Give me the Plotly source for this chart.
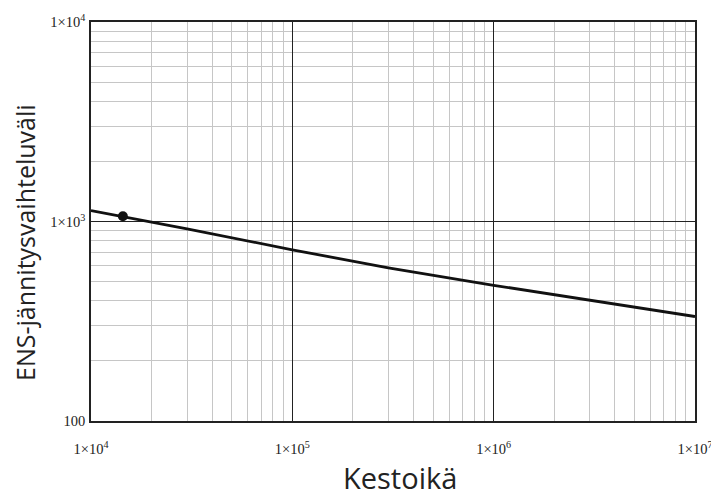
import plotly.graph_objects as go

# Data
cycles = [1e4, 3e4, 1e5, 3e5, 1e6, 3e6, 1e7]
stress_range = [1135, 919, 721, 586, 479, 403, 334]
point_cycles = [14400]
point_stress = [1063]

x_tickvals = [1e4, 1e5, 1e6, 1e7]
x_ticktext = ["1×10<sup>4</sup>", "1×10<sup>5</sup>", "1×10<sup>6</sup>", "1×10<sup>7</sup>"]
y_tickvals = [100, 1e3, 1e4]
y_ticktext = ["100", "1×10<sup>3</sup>", "1×10<sup>4</sup>"]

x_minor = [m * 10 ** e for e in range(4, 7) for m in range(2, 10)]
y_minor = [m * 10 ** e for e in range(2, 4) for m in range(2, 10)]

# page offset (browser body margin)
OFF = 8
W, H = 719 - OFF, 499 - OFF
L, R, T, B = 91 - OFF, 24, 22 - OFF, 78
pw, ph = W - L - R, H - T - B

fig = go.Figure()
fig.add_trace(go.Scatter(x=cycles, y=stress_range, mode="lines",
                         line=dict(color="#111111", width=2.8), showlegend=False))
fig.add_trace(go.Scatter(x=point_cycles, y=point_stress, mode="markers",
                         marker=dict(color="#111111", size=10, symbol="circle"),
                         showlegend=False))

tickfont = dict(family="Liberation Serif, Times New Roman, serif", size=14.5, color="#222222")
axis_common = dict(type="log", showline=True, mirror=True, linecolor="#222222", linewidth=1.5,
                   showgrid=True, gridcolor="#222222", gridwidth=1, ticks="", zeroline=False,
                   tickfont=tickfont, tickmode="array")

fig.update_xaxes(range=[4, 7], tickvals=x_tickvals, ticktext=x_ticktext,
                 ticklabelstandoff=14,
                 minor=dict(tickvals=x_minor, showgrid=True, gridcolor="#c6c6c6", gridwidth=1.3),
                 **axis_common)
fig.update_yaxes(range=[2, 4], tickvals=y_tickvals, ticktext=y_ticktext,
                 ticklabelstandoff=1,
                 minor=dict(tickvals=y_minor, showgrid=True, gridcolor="#c6c6c6", gridwidth=1.3),
                 **axis_common)

titlefont = "Open Sans, Noto Sans, sans-serif"
# positions given in page pixels, converted to paper coordinates
fig.add_annotation(text="ENS-jännitysvaihteluväli", textangle=-90, showarrow=False,
                   xref="paper", yref="paper", x=(25 - 91) / pw, y=(421 - 243) / ph,
                   xanchor="center", yanchor="middle",
                   font=dict(family=titlefont, size=25, color="#222222"))
fig.add_annotation(text="Kestoikä", showarrow=False,
                   xref="paper", yref="paper", x=(400 - 91) / pw, y=(421 - 477) / ph,
                   xanchor="center", yanchor="middle",
                   font=dict(family=titlefont, size=29, color="#222222"))

fig.update_layout(width=W, height=H, margin=dict(l=L, r=R, t=T, b=B, autoexpand=False),
                  paper_bgcolor="white", plot_bgcolor="white")

fig.write_html("out.html")
